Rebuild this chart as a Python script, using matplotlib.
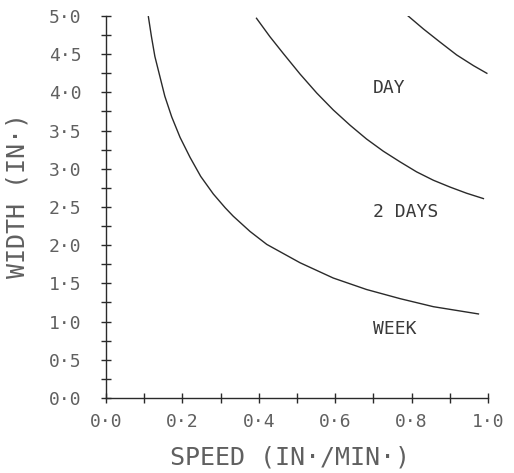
import matplotlib.pyplot as plt
from matplotlib.ticker import MultipleLocator

# width needed vs. speed for each drying time
week_speed = [0.111, 0.119, 0.128, 0.141, 0.154, 0.172, 0.194, 0.220, 0.248,
              0.281, 0.312, 0.333, 0.377, 0.421, 0.508, 0.595, 0.682, 0.770,
              0.857, 0.975]
week_width = [4.99, 4.73, 4.47, 4.21, 3.95, 3.68, 3.41, 3.15, 2.90,
              2.67, 2.49, 2.38, 2.18, 2.01, 1.77, 1.57, 1.42, 1.30,
              1.195, 1.10]

two_day_speed = [0.394, 0.429, 0.464, 0.508, 0.552, 0.595, 0.639, 0.682,
                 0.726, 0.770, 0.813, 0.857, 0.901, 0.944, 0.988]
two_day_width = [4.97, 4.73, 4.51, 4.24, 3.99, 3.77, 3.57, 3.39,
                 3.23, 3.09, 2.96, 2.85, 2.76, 2.68, 2.61]

day_speed = [0.791, 0.831, 0.874, 0.918, 0.962, 0.997]
day_width = [5.00, 4.83, 4.66, 4.49, 4.35, 4.25]

x_ticks = [0.0, 0.2, 0.4, 0.6, 0.8, 1.0]
y_ticks = [0.0, 0.5, 1.0, 1.5, 2.0, 2.5, 3.0, 3.5, 4.0, 4.5, 5.0]

LINE = '#2a2a2a'
TEXT = '#606060'
FONT = 'DejaVu Sans Mono'


def fmt(v):
    return ('%.1f' % v).replace('.', '\u00b7')


fig = plt.figure(figsize=(5.14, 4.73), dpi=100)
ax = fig.add_axes([0.2062, 0.1586, 0.7432, 0.8076])

for s, w in [(week_speed, week_width), (two_day_speed, two_day_width), (day_speed, day_width)]:
    ax.plot(s, w, color=LINE, lw=1.0)

ax.set_xlim(0, 1.0)
ax.set_ylim(0, 5.0)
for side in ['top', 'right']:
    ax.spines[side].set_visible(False)
for side in ['left', 'bottom']:
    ax.spines[side].set_color(LINE)
    ax.spines[side].set_linewidth(1.0)

ax.set_xticks(x_ticks)
ax.set_yticks(y_ticks)
ax.xaxis.set_minor_locator(MultipleLocator(0.1))
ax.yaxis.set_minor_locator(MultipleLocator(0.25))
ax.set_xticklabels([fmt(v) for v in x_ticks], family=FONT, fontsize=13, color=TEXT)
ax.set_yticklabels([fmt(v) for v in y_ticks], family=FONT, fontsize=13, color=TEXT)
ax.tick_params(which='both', direction='inout', length=7, width=1.0, color=LINE)
ax.tick_params(axis='x', pad=7)
ax.tick_params(axis='y', pad=14)

ax.set_xlabel('SPEED (IN\u00b7/MIN\u00b7)', family=FONT, fontsize=18, color=TEXT)
ax.set_ylabel('WIDTH (IN\u00b7)', family=FONT, fontsize=18, color=TEXT)
ax.xaxis.set_label_coords(0.482, -0.125)
ax.yaxis.set_label_coords(-0.20, 0.53)

# curve labels
ax.text(0.699, 4.06, 'DAY', family=FONT, fontsize=13, color='#3a3a3a', va='center')
ax.text(0.699, 2.44, '2 DAYS', family=FONT, fontsize=13, color='#3a3a3a', va='center')
ax.text(0.699, 0.90, 'WEEK', family=FONT, fontsize=13, color='#3a3a3a', va='center')

fig.savefig('out.png', dpi=100)
